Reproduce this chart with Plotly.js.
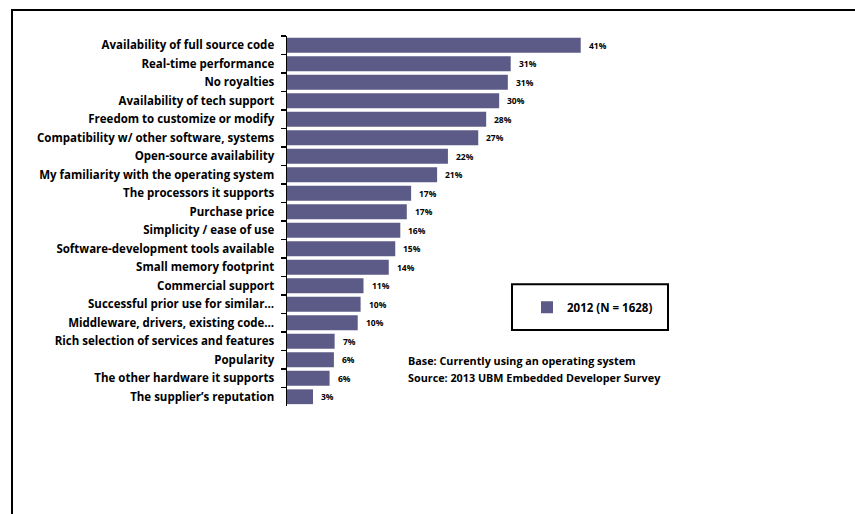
<!DOCTYPE html>
<html>
<head>
<meta charset="utf-8">
<script src="https://cdn.plot.ly/plotly-3.0.1.min.js"></script>
<style>
  html, body { margin: 0; padding: 0; background: #fff; }
  #wrap { position: relative; width: 855px; height: 514px; overflow: hidden; }
  #chart { position: absolute; left: 0; top: 0; width: 855px; height: 514px; }
  #frame { position: absolute; left: 11px; top: 9px; width: 900px; height: 600px;
           border-left: 2px solid #000; border-top: 2px solid #000; pointer-events: none; }
</style>
</head>
<body>
<div id="wrap">
  <div id="chart"></div>
  <div id="frame"></div>
</div>
<script>
// Categories, top to bottom
const categories = [
  "Availability of full source code",
  "Real-time performance",
  "No royalties",
  "Availability of tech support",
  "Freedom to customize or modify",
  "Compatibility w/ other software, systems",
  "Open-source availability",
  "My familiarity with the operating system",
  "The processors it supports",
  "Purchase price",
  "Simplicity / ease of use",
  "Software-development tools available",
  "Small memory footprint",
  "Commercial support",
  "Successful prior use for similar…",
  "Middleware, drivers, existing code…",
  "Rich selection of services and features",
  "Popularity",
  "The other hardware it supports",
  "The supplier\u2019s reputation"
];
// Bar lengths (percent)
const values2012 = [40.7, 31.0, 30.6, 29.4, 27.6, 26.5, 22.3, 20.8, 17.2, 16.6,
                    15.7, 15.0, 14.1, 10.6, 10.2, 9.8, 6.6, 6.5, 5.9, 3.6];
// Printed data labels
const labels2012 = ["41%", "31%", "31%", "30%", "28%", "27%", "22%", "21%", "17%", "17%",
                    "16%", "15%", "14%", "11%", "10%", "10%", "7%", "6%", "6%", "3%"];
const seriesName = "2012 (N = 1628)";
const notes = ["Base: Currently using an operating system",
               "Source: 2013 UBM Embedded Developer Survey"];

const FONT = "'Open Sans', sans-serif";
const barColor = "#5c5b88";

const trace = {
  type: "bar",
  orientation: "h",
  name: seriesName,
  y: categories,
  x: values2012,
  marker: { color: barColor, line: { width: 0 } },
  hoverinfo: "none",
  showlegend: true
};

const annotations = categories.map((c, i) => ({
  x: values2012[i], y: c, xref: "x", yref: "y",
  text: "<b>" + labels2012[i] + "</b>",
  showarrow: false, xanchor: "left", yanchor: "middle", xshift: 6,
  font: { family: FONT, size: 8.5, color: "#000" }
}));
annotations.push({
  xref: "paper", yref: "paper", x: (406 - 287) / 433, y: (406 - 360) / 370.6,
  xanchor: "left", yanchor: "middle", showarrow: false,
  text: "<b>" + notes[0] + "</b>", font: { family: FONT, size: 10.8, color: "#000" }
});
annotations.push({
  xref: "paper", yref: "paper", x: (406 - 287) / 433, y: (406 - 377) / 370.6,
  xanchor: "left", yanchor: "middle", showarrow: false,
  text: "<b>" + notes[1] + "</b>", font: { family: FONT, size: 10.8, color: "#000" }
});

const layout = {
  width: 855, height: 514,
  margin: { l: 287, r: 135, t: 36, b: 108 },
  paper_bgcolor: "#fff", plot_bgcolor: "#fff",
  bargap: 0.2,
  xaxis: { range: [0, 60], visible: false, fixedrange: true },
  yaxis: {
    type: "category", autorange: "reversed",
    showline: true, linecolor: "#000", linewidth: 1.5,
    ticks: "outside", tickson: "boundaries", ticklen: 5, tickwidth: 1.2, tickcolor: "#000",
    showgrid: false, zeroline: false,
    tickfont: { family: FONT, size: 11.5, color: "#000", weight: "bold" },
    ticklabelstandoff: 9,
    fixedrange: true
  },
  showlegend: true,
  legend: {
    x: (527 - 287) / 433, xanchor: "left",
    y: (406 - 307) / 370.6, yanchor: "middle",
    bgcolor: "rgba(0,0,0,0)", borderwidth: 0,
    itemwidth: 30,
    font: { family: FONT, size: 11.5, color: "#000", weight: "bold" }
  },
  shapes: [{
    type: "rect", xref: "paper", yref: "paper",
    x0: (512 - 287) / 433, x1: (668 - 287) / 433,
    y0: (406 - 330) / 370.6, y1: (406 - 284) / 370.6,
    line: { color: "#000", width: 2 }, fillcolor: "rgba(0,0,0,0)"
  }],
  annotations: annotations
};

Plotly.newPlot("chart", [trace], layout, { displayModeBar: false, staticPlot: true });
</script>
</body>
</html>
